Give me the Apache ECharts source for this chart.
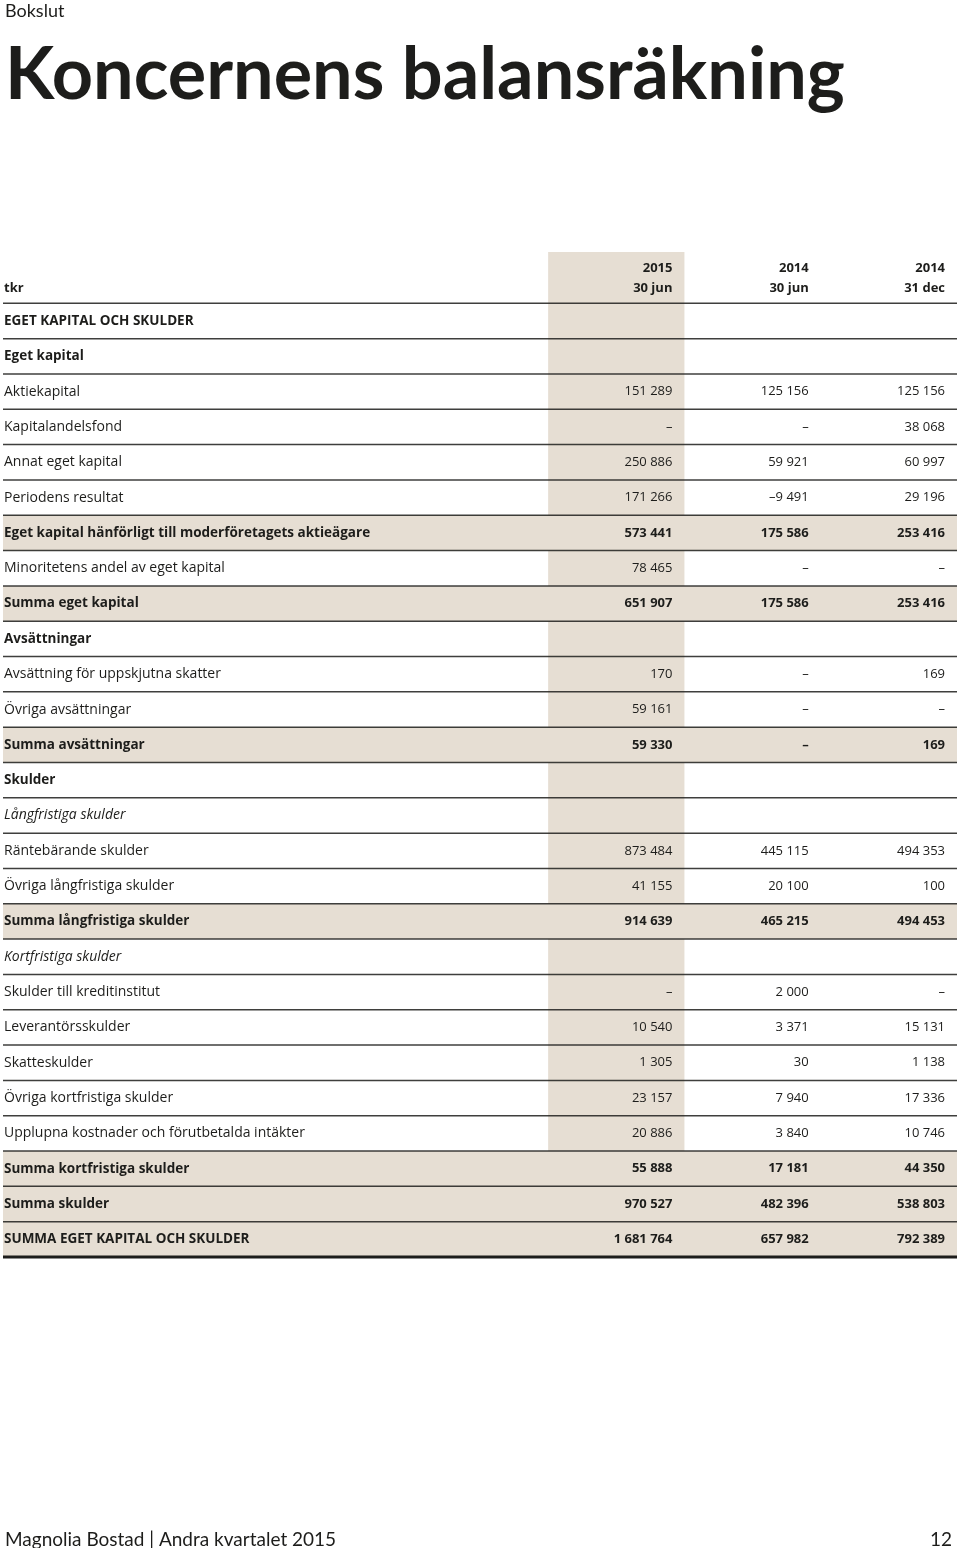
<!DOCTYPE html>
<html>
<head>
<meta charset="utf-8">
<title>Koncernens balansräkning</title>
<script src="https://cdn.jsdelivr.net/npm/echarts@6.0.0/dist/echarts.min.js"></script>
<style>
  html, body { margin: 0; padding: 0; background: #fff; }
  #chart { width: 960px; height: 1548px; }
</style>
</head>
<body>
<div id="chart"></div>
<script>
// kolumnrubriker
const stubHead = 'tkr';
const colHeads = ['2015\n30 jun', '2014\n30 jun', '2014\n31 dec'];

// radetiketter
const rowLabels = [
  'EGET KAPITAL OCH SKULDER',
  'Eget kapital',
  'Aktiekapital',
  'Kapitalandelsfond',
  'Annat eget kapital',
  'Periodens resultat',
  'Eget kapital hänförligt till moderföretagets aktieägare',
  'Minoritetens andel av eget kapital',
  'Summa eget kapital',
  'Avsättningar',
  'Avsättning för uppskjutna skatter',
  'Övriga avsättningar',
  'Summa avsättningar',
  'Skulder',
  'Långfristiga skulder',
  'Räntebärande skulder',
  'Övriga långfristiga skulder',
  'Summa långfristiga skulder',
  'Kortfristiga skulder',
  'Skulder till kreditinstitut',
  'Leverantörsskulder',
  'Skatteskulder',
  'Övriga kortfristiga skulder',
  'Upplupna kostnader och förutbetalda intäkter',
  'Summa kortfristiga skulder',
  'Summa skulder',
  'SUMMA EGET KAPITAL OCH SKULDER'
];

// radtyp: section / group / sub = rubrik, item = post, total = summa
const rowKinds = [
  'section', 'group', 'item', 'item', 'item', 'item', 'total', 'item', 'total',
  'group', 'item', 'item', 'total',
  'group', 'sub', 'item', 'item', 'total',
  'sub', 'item', 'item', 'item', 'item', 'item', 'total', 'total', 'total'
];

// värden (null = –)
const val2015Jun = [
  null, null, 151289, null, 250886, 171266, 573441, 78465, 651907,
  null, 170, 59161, 59330,
  null, null, 873484, 41155, 914639,
  null, null, 10540, 1305, 23157, 20886, 55888, 970527, 1681764
];
const val2014Jun = [
  null, null, 125156, null, 59921, -9491, 175586, null, 175586,
  null, null, null, null,
  null, null, 445115, 20100, 465215,
  null, 2000, 3371, 30, 7940, 3840, 17181, 482396, 657982
];
const val2014Dec = [
  null, null, 125156, 38068, 60997, 29196, 253416, null, 253416,
  null, 169, null, 169,
  null, null, 494353, 100, 494453,
  null, null, 15131, 1138, 17336, 10746, 44350, 538803, 792389
];

const valueCols = [val2015Jun, val2014Jun, val2014Dec];

const INK = '#1d1d1b';
const SHADE = '#e6ded3';
const FONT = '"Open Sans", Lato, sans-serif';
const TITLE_FONT = 'Lato, "Open Sans", sans-serif';
// radetiketter
const REG = '14px ' + FONT;
const BOLD = 'bold 13.5px ' + FONT;
const ITAL = 'italic 14px ' + FONT;
// siffror
const NUM = '13px ' + FONT;
const NUM_BOLD = 'bold 13px ' + FONT;

function fmt(v) {
  if (v == null) return '–';
  const s = Math.abs(v).toString().replace(/\B(?=(\d{3})+(?!\d))/g, ' ');
  return (v < 0 ? '–' : '') + s;
}

const chart = echarts.init(document.getElementById('chart'));

// rad 0 = kolumnrubriker, därefter tabellens rader
const yCats = [stubHead].concat(rowLabels);
const rowData = yCats.map((_, i) => [0, i]);

function renderCells(params, api) {
  const i = api.value(1);
  const p = api.coord([0, i]);
  const size = api.size([1, 1]);
  const colW = size[0];
  const h = size[1];
  const x0 = p[0];
  const yc = p[1];
  const top = yc - h / 2;
  const children = [];

  if (i === 0) {
    // rubrikrad
    const ext = h * 0.45;
    const c0 = api.coord([4, i]);
    children.push({
      type: 'rect',
      shape: {x: c0[0], y: top - ext, width: colW, height: h + ext},
      style: {fill: SHADE}
    });
    children.push({
      type: 'text',
      style: {
        x: x0 + 1, y: yc + 3, text: stubHead,
        font: NUM_BOLD, fill: INK,
        align: 'left', verticalAlign: 'middle'
      }
    });
    colHeads.forEach((t, k) => {
      const c = api.coord([5 + k, i]);
      children.push({
        type: 'text',
        style: {
          x: c[0] - 12, y: yc - 7, text: t,
          font: NUM_BOLD, fill: INK, lineHeight: 20,
          align: 'right', verticalAlign: 'middle'
        }
      });
    });
    return {type: 'group', children: children};
  }

  const r = i - 1;
  const kind = rowKinds[r];
  const c4 = api.coord([4, i]);
  const c7 = api.coord([7, i]);

  if (kind === 'total') {
    children.push({
      type: 'rect',
      shape: {x: x0, y: top, width: c7[0] - x0, height: h},
      style: {fill: SHADE}
    });
  } else {
    children.push({
      type: 'rect',
      shape: {x: c4[0], y: top, width: colW, height: h},
      style: {fill: SHADE}
    });
  }

  let font = REG;
  if (kind === 'section' || kind === 'group' || kind === 'total') font = BOLD;
  if (kind === 'sub') font = ITAL;

  children.push({
    type: 'text',
    style: {
      x: x0 + 1, y: yc, text: rowLabels[r],
      font: font, fill: INK, align: 'left', verticalAlign: 'middle'
    }
  });

  if (kind === 'item' || kind === 'total') {
    valueCols.forEach((col, k) => {
      const c = api.coord([5 + k, i]);
      children.push({
        type: 'text',
        style: {
          x: c[0] - 12, y: yc, text: fmt(col[r]),
          font: kind === 'total' ? NUM_BOLD : NUM,
          fill: INK, align: 'right', verticalAlign: 'middle'
        }
      });
    });
  }
  return {type: 'group', children: children};
}

function renderRules(params, api) {
  const i = api.value(1);
  const p = api.coord([0, i]);
  const c7 = api.coord([7, i]);
  const h = api.size([1, 1])[1];
  const last = i === yCats.length - 1;
  const y = p[1] + h / 2;
  return {
    type: 'line',
    shape: {x1: p[0], y1: y, x2: c7[0], y2: y},
    style: {stroke: INK, lineWidth: last ? 3 : 1.5, opacity: last ? 1 : 0.85}
  };
}

const option = {
  backgroundColor: '#fff',
  animation: false,
  title: [
    {
      text: 'Bokslut', left: 0, top: -3,
      textStyle: {fontFamily: TITLE_FONT, fontWeight: 'normal', fontSize: 18, color: INK}
    },
    {
      text: 'Koncernens balansräkning', left: 0, top: 35,
      textStyle: {fontFamily: TITLE_FONT, fontWeight: 'bold', fontSize: 72, color: INK}
    },
    {
      text: 'Magnolia Bostad | Andra kvartalet 2015', left: 0, top: 1525,
      textStyle: {fontFamily: TITLE_FONT, fontWeight: 'normal', fontSize: 19, color: INK}
    },
    {
      text: '12', right: 3, top: 1525,
      textStyle: {fontFamily: TITLE_FONT, fontWeight: 'normal', fontSize: 19, color: INK}
    }
  ],
  grid: {left: 3, right: 3, top: 268, height: 989},
  xAxis: {
    type: 'value', min: 0, max: 7, interval: 1,
    show: false
  },
  yAxis: {
    type: 'category', data: yCats, inverse: true,
    show: false
  },
  series: [
    {
      name: 'cells', type: 'custom', renderItem: renderCells,
      data: rowData, z: 1, silent: true
    },
    {
      name: 'rules', type: 'custom', renderItem: renderRules,
      data: rowData, z: 3, silent: true
    }
  ]
};

chart.setOption(option);
</script>
</body>
</html>
